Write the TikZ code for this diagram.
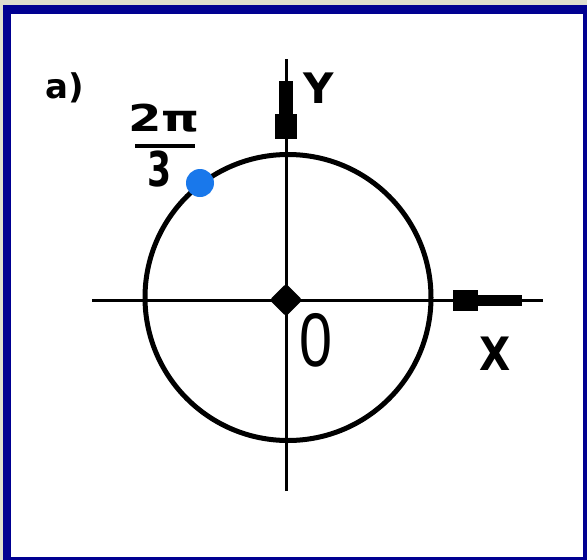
\documentclass[tikz,border=0pt]{standalone}
\usepackage{fontspec}
\setmainfont{DejaVu Sans}
\newfontfamily\lsans{Liberation Sans}
\usetikzlibrary{shapes.geometric}
\definecolor{frameblue}{RGB}{0,0,145}
\definecolor{dotblue}{RGB}{25,120,235}
\definecolor{sheet}{RGB}{222,222,206}
\begin{document}
\begin{tikzpicture}[x=1pt,y=-1pt,
  axis/.style={line width=3pt},
  ring/.style={line width=5pt},
  lbl/.style={inner sep=0pt, outer sep=0pt},
  tipbar/.style={fill=black}]
\useasboundingbox (0,0) rectangle (587,560);
% sheet and frame
\fill[sheet] (0,0) rectangle (587,560);
\fill[frameblue] (3,5) rectangle (587,560);
\fill[white] (11,14) rectangle (583,557);
% axes
\coordinate (xl) at (92,300);
\coordinate (xr) at (543,300);
\coordinate (yb) at (286,491);
\coordinate (yt) at (286,59);
\draw[axis] (xl) -- (xr);
\draw[axis] (yb) -- (yt);
% arrow-like thick parts
\fill[tipbar] (275,114) rectangle (297,139);
\fill[tipbar] (279,81) rectangle (293,114.5);
\fill[tipbar] (453,290) rectangle (477.5,311);
\fill[tipbar] (477,295) rectangle (522,306);
% circle
\coordinate (C) at (288,297.5);
\draw[ring] (C) circle[radius=143pt];
% origin and point
\node[diamond, fill=black, minimum size=33pt, inner sep=0pt, rounded corners=3pt] (O) at (286,300) {};
\node[circle, fill=dotblue, minimum size=28pt, inner sep=0pt] (P) at (200,183) {};
% labels
\node[lbl, font=\bfseries\fontsize{34}{34}\selectfont] (a) at (65,88) {a)};
\node[lbl, font=\bfseries\fontsize{42}{42}\selectfont] (Y) at (319,88) {Y};
\node[lbl, font=\bfseries\fontsize{46}{46}\selectfont] (X) at (495,354) {\scalebox{0.88}[1]{X}};
\node[lbl, font=\lsans\fontsize{76}{76}\selectfont] (zero) at (316,340.5) {\scalebox{0.78}[1]{0}};
\node[lbl, font=\bfseries\fontsize{37}{37}\selectfont] (num) at (164,118.5) {\scalebox{1.3}[1]{2π}};
\node[lbl, font=\bfseries\fontsize{48}{48}\selectfont] (den) at (160,169.5) {\scalebox{0.72}[1]{3}};
\coordinate (barl) at (135,146);
\coordinate (barr) at (195,146);
\draw[line width=3.5pt] (barl) -- (barr);
\end{tikzpicture}
\end{document}
